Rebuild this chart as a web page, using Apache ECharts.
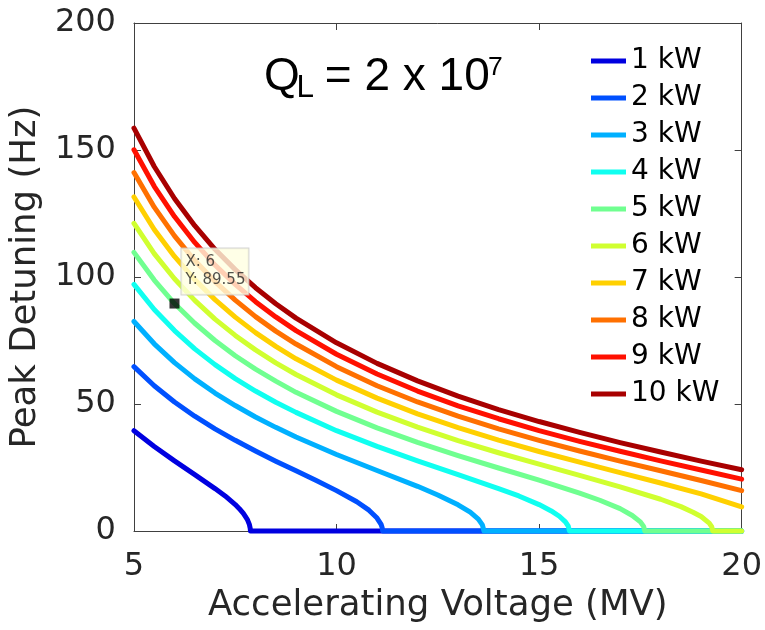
<!DOCTYPE html>
<html>
<head>
<meta charset="utf-8">
<script src="https://cdn.jsdelivr.net/npm/echarts@6/dist/echarts.min.js"></script>
<style>
  html, body { margin: 0; padding: 0; background: #fff; }
  #chart { width: 765px; height: 630px; }
</style>
</head>
<body>
<div id="chart"></div>
<script>
// Forward power levels, one curve each
const powerNames = ['1 kW', '2 kW', '3 kW', '4 kW', '5 kW', '6 kW', '7 kW', '8 kW', '9 kW', '10 kW'];
const powerColors = ['#0000E0', '#0050FF', '#00B0FF', '#10FFF0', '#70FF90',
                     '#D0FF30', '#FFD000', '#FF7000', '#FF1000', '#A80000'];

// Accelerating voltage (MV) and peak detuning (Hz) per power level
const volt1kW = [5, 5.5, 6, 6.5, 7, 7.25, 7.5, 7.6, 7.7, 7.8, 7.85, 7.87, 7.875, 20];
const det1kW  = [39.5, 33.3, 27.6, 22.2, 16.7, 13.8, 10.4, 8.8, 6.9, 4.5, 2.5, 1.0, 0, 0];

const volt2kW = [5, 5.5, 6, 6.5, 7, 7.5, 8, 8.5, 9, 9.5, 10, 10.5, 10.8, 11, 11.1, 11.125, 11.14, 20];
const det2kW  = [64.7, 57.2, 50.8, 45.2, 40.2, 35.7, 31.5, 27.5, 23.7, 19.9, 15.9, 11.5, 8.2, 5.1, 2.6, 1.4, 0, 0];

const volt3kW = [5, 5.5, 6, 6.5, 7, 7.5, 8, 8.5, 9, 10, 11, 12, 12.5, 13, 13.3, 13.5, 13.6, 13.64, 20];
const det3kW  = [82.5, 73.7, 66.3, 59.9, 54.3, 49.4, 44.9, 40.8, 37.0, 30.1, 23.8, 17.6, 14.2, 10.3, 7.4, 4.7, 2.4, 0, 0];

const volt4kW = [5, 5.5, 6, 6.5, 7, 7.5, 8, 8.5, 9, 10, 11, 12, 13, 14, 14.5, 15, 15.3, 15.5, 15.65, 15.72, 15.75, 20];
const det4kW  = [97.1, 87.2, 78.9, 71.7, 65.5, 60.0, 55.1, 50.7, 46.7, 39.5, 33.3, 27.6, 22.2, 16.7, 13.8, 10.4, 7.9, 5.8, 3.6, 1.9, 0, 0];

const volt5kW = [5, 5.5, 6, 6.5, 7, 7.5, 8, 8.5, 9, 10, 11, 12, 13, 14, 15, 16, 16.5, 17, 17.3, 17.5, 17.58, 17.61, 20];
const det5kW  = [109.7, 98.8, 89.55, 81.8, 75.0, 69.0, 63.7, 59.0, 54.6, 47.1, 40.6, 34.9, 29.7, 24.8, 20.0, 14.9, 12.1, 8.8, 6.1, 3.6, 1.8, 0, 0];

const volt6kW = [5, 5.5, 6, 6.5, 7, 7.5, 8, 8.5, 9, 10, 11, 12, 13, 14, 15, 16, 17, 18, 18.5, 18.8, 19, 19.2, 19.26, 19.29, 20];
const det6kW  = [121.1, 109.2, 99.3, 90.8, 83.4, 77.0, 71.3, 66.2, 61.6, 53.6, 46.8, 40.9, 35.6, 30.8, 26.3, 21.9, 17.4, 12.5, 9.6, 7.4, 5.7, 3.1, 1.7, 0, 0];

const voltHigh = [5, 5.5, 6, 6.5, 7, 7.5, 8, 8.5, 9, 10, 11, 12, 13, 14, 15, 16, 17, 18, 19, 20];
const det7kW  = [131.5, 118.7, 108.1, 99.0, 91.1, 84.2, 78.1, 72.7, 67.8, 59.4, 52.3, 46.1, 40.7, 35.8, 31.3, 27.1, 23.0, 18.9, 14.6, 9.5];
const det8kW  = [141.1, 127.5, 116.2, 106.5, 98.2, 90.9, 84.4, 78.7, 73.6, 64.7, 57.2, 50.8, 45.2, 40.2, 35.7, 31.5, 27.5, 23.7, 19.9, 15.9];
const det9kW  = [150.1, 135.7, 123.8, 113.6, 104.7, 97.1, 90.3, 84.3, 78.9, 69.6, 61.8, 55.1, 49.3, 44.2, 39.5, 35.3, 31.4, 27.6, 24.0, 20.4];
const det10kW = [158.6, 143.5, 130.9, 120.2, 110.9, 102.9, 95.8, 89.5, 83.8, 74.1, 66.0, 59.1, 53.1, 47.8, 43.1, 38.8, 34.8, 31.1, 27.5, 24.1];

// Data cursor placed on the 5 kW curve
const cursorVolt = 6;
const cursorDet = 89.55;

const curveVolts = [volt1kW, volt2kW, volt3kW, volt4kW, volt5kW, volt6kW, voltHigh, voltHigh, voltHigh, voltHigh];
const curveDets  = [det1kW, det2kW, det3kW, det4kW, det5kW, det6kW, det7kW, det8kW, det9kW, det10kW];

const FONT = 'DejaVu Sans';
const INK = '#262626';

const curveSeries = powerNames.map((name, i) => ({
  name: name,
  type: 'line',
  xAxisIndex: 0,
  yAxisIndex: 0,
  data: curveVolts[i].map((v, k) => [v, curveDets[i][k]]),
  symbol: 'none',
  clip: false,
  smooth: false,
  color: powerColors[i],
  lineStyle: { width: 5, color: powerColors[i], cap: 'round', join: 'round' },
  z: 2 + i * 0.01
}));

const cursorSeries = {
  name: 'cursor',
  type: 'scatter',
  data: [[cursorVolt, cursorDet]],
  symbol: 'rect',
  symbolSize: 10,
  itemStyle: { color: '#000' },
  z: 5,
  label: {
    show: true,
    position: [12, -50],
    formatter: p => 'X: ' + p.value[0] + '\nY: ' + p.value[1],
    fontFamily: FONT,
    fontSize: 15,
    lineHeight: 17.5,
    color: INK,
    backgroundColor: '#FFFFE1',
    borderColor: '#C8C8C8',
    borderWidth: 1,
    padding: [5, 3, 6, 4]
  }
};

const axisCommon = {
  type: 'value',
  axisLine: { show: true, onZero: false, lineStyle: { color: '#404040', width: 1 } },
  axisTick: { show: true, inside: true, length: 7, lineStyle: { color: '#404040' } },
  splitLine: { show: false }
};

const option = {
  animation: false,
  backgroundColor: '#fff',
  grid: { left: 131, top: 23, right: 23, bottom: 99, containLabel: false },
  xAxis: [
    Object.assign({}, axisCommon, {
      position: 'bottom', min: 5, max: 20, interval: 5,
      axisLabel: { fontFamily: FONT, fontSize: 32, color: INK, margin: 20 },
      name: 'Accelerating Voltage (MV)',
      nameLocation: 'middle', nameGap: 54,
      nameTextStyle: { fontFamily: FONT, fontSize: 35.5, color: INK }
    }),
    Object.assign({}, axisCommon, {
      position: 'top', min: 5, max: 20, interval: 5,
      axisLabel: { show: false }
    })
  ],
  yAxis: [
    Object.assign({}, axisCommon, {
      position: 'left', min: 0, max: 200, interval: 50,
      axisLabel: { fontFamily: FONT, fontSize: 32, color: INK, margin: 18 },
      name: 'Peak Detuning (Hz)',
      nameLocation: 'middle', nameGap: 83,
      nameTextStyle: { fontFamily: FONT, fontSize: 35.5, color: INK }
    }),
    Object.assign({}, axisCommon, {
      position: 'right', min: 0, max: 200, interval: 50,
      axisLabel: { show: false }
    })
  ],
  legend: {
    data: powerNames,
    orient: 'vertical',
    left: 591,
    top: 47,
    padding: 0,
    icon: 'rect',
    itemWidth: 35,
    itemHeight: 5,
    itemGap: 9,
    textStyle: { fontFamily: FONT, fontSize: 28, color: '#000', lineHeight: 28, padding: [0, 0, 0, 0] },
    selectedMode: false
  },
  graphic: [
    { type: 'text', x: 264, y: 77.4,
      style: { text: 'Q', font: '46px "Liberation Sans"', fill: '#000', align: 'left', verticalAlign: 'middle' } },
    { type: 'text', x: 296.5, y: 88.4,
      style: { text: 'L', font: '31.5px "Liberation Sans"', fill: '#000', align: 'left', verticalAlign: 'middle' } },
    { type: 'text', x: 312, y: 77.4,
      style: { text: ' = 2 x 10', font: '46px "Liberation Sans"', fill: '#000', align: 'left', verticalAlign: 'middle' } },
    { type: 'text', x: 488, y: 67.8,
      style: { text: '7', font: '26.5px "Liberation Sans"', fill: '#000', align: 'left', verticalAlign: 'middle' } }
  ],
  series: curveSeries.concat([cursorSeries])
};

const chart = echarts.init(document.getElementById('chart'), null, { renderer: 'canvas' });
chart.setOption(option);
</script>
</body>
</html>
